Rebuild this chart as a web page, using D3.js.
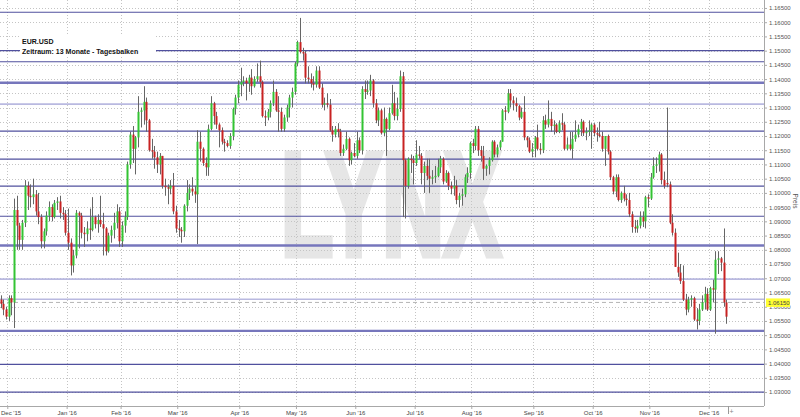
<!DOCTYPE html>
<html>
<head>
<meta charset="utf-8">
<script src="https://cdn.jsdelivr.net/npm/d3@7"></script>
<style>
  body { margin: 0; background: #fff; }
  svg text { font-family: "Liberation Sans", Arial, sans-serif; }
</style>
</head>
<body>
<div id="chart"></div>
<script>
var w = 800, h = 417;
var plotRight = 764, plotBottom = 406;

// daily bars EUR.USD, each row [open, high, low, close]
var nov15 = [
  [1.0625,1.0640,1.0595,1.0610],[1.0610,1.0625,1.0570,1.0590],[1.0590,1.0600,1.0555,1.0565]
];
var dec15 = [
  [1.0565,1.0640,1.0550,1.0630],[1.0630,1.0640,1.0570,1.0615],[1.0615,1.0980,1.0525,1.0940],
  [1.0940,1.0990,1.0800,1.0885],[1.0885,1.0895,1.0800,1.0835],[1.0835,1.0905,1.0800,1.0895],
  [1.0895,1.1045,1.0880,1.1025],[1.1025,1.1040,1.0940,1.0990],[1.0990,1.1030,1.0950,1.0985],
  [1.0985,1.1050,1.0960,1.0995],[1.0995,1.1010,1.0920,1.0935],[1.0935,1.1000,1.0890,1.0915],
  [1.0915,1.0925,1.0805,1.0830],[1.0830,1.0875,1.0805,1.0865],[1.0865,1.0935,1.0850,1.0920],
  [1.0920,1.0970,1.0900,1.0950],[1.0950,1.0960,1.0900,1.0915],[1.0915,1.0975,1.0910,1.0965],
  [1.0965,1.0985,1.0940,1.0970],[1.0970,1.0990,1.0910,1.0930],[1.0930,1.0950,1.0905,1.0925],
  [1.0925,1.0940,1.0850,1.0860]
];
var jan16 = [
  [1.0860,1.0945,1.0800,1.0825],[1.0825,1.0840,1.0710,1.0745],[1.0745,1.0800,1.0720,1.0780],
  [1.0780,1.0940,1.0770,1.0930],[1.0930,1.0935,1.0805,1.0920],[1.0920,1.0930,1.0840,1.0860],
  [1.0860,1.0880,1.0810,1.0855],[1.0855,1.0900,1.0830,1.0875],[1.0875,1.0945,1.0835,1.0870],
  [1.0870,1.0985,1.0865,1.0915],[1.0915,1.0920,1.0875,1.0890],[1.0890,1.0925,1.0860,1.0905],
  [1.0905,1.0990,1.0880,1.0890],[1.0890,1.0930,1.0780,1.0875],[1.0875,1.0880,1.0780,1.0795],
  [1.0795,1.0860,1.0790,1.0850],[1.0850,1.0885,1.0825,1.0870],[1.0870,1.0930,1.0840,1.0895],
  [1.0895,1.0960,1.0875,1.0935],[1.0935,1.0950,1.0810,1.0830]
];
var feb16 = [
  [1.0830,1.0900,1.0810,1.0885],[1.0885,1.0935,1.0860,1.0915],[1.0915,1.1110,1.0905,1.1100],
  [1.1100,1.1215,1.1085,1.1205],[1.1205,1.1235,1.1105,1.1155],[1.1155,1.1200,1.1065,1.1195],
  [1.1195,1.1340,1.1160,1.1285],[1.1285,1.1300,1.1230,1.1290],[1.1290,1.1375,1.1240,1.1320],
  [1.1320,1.1335,1.1215,1.1255],[1.1255,1.1260,1.1145,1.1150],[1.1150,1.1190,1.1120,1.1145],
  [1.1145,1.1165,1.1085,1.1125],[1.1125,1.1145,1.1070,1.1100],[1.1100,1.1140,1.1065,1.1130],
  [1.1130,1.1130,1.1015,1.1025],[1.1025,1.1050,1.0990,1.1020],[1.1020,1.1030,1.0960,1.1015],
  [1.1015,1.1045,1.0995,1.1025],[1.1025,1.1070,1.0925,1.0935],[1.0935,1.0955,1.0860,1.0875]
];
var mar16 = [
  [1.0875,1.0905,1.0845,1.0870],[1.0870,1.0880,1.0825,1.0865],[1.0865,1.0960,1.0845,1.0955],
  [1.0955,1.1045,1.0935,1.1000],[1.1000,1.1030,1.0975,1.1015],[1.1015,1.1055,1.0990,1.1005],
  [1.1005,1.1025,1.0965,1.0995],[1.0995,1.1220,1.0820,1.1180],[1.1180,1.1215,1.1110,1.1155],
  [1.1155,1.1160,1.1095,1.1105],[1.1105,1.1125,1.1060,1.1090],[1.1090,1.1240,1.1060,1.1225],
  [1.1225,1.1340,1.1220,1.1315],[1.1315,1.1320,1.1240,1.1270],[1.1270,1.1285,1.1225,1.1240],
  [1.1240,1.1245,1.1160,1.1220],[1.1220,1.1230,1.1170,1.1180],[1.1180,1.1190,1.1145,1.1175],
  [1.1175,1.1185,1.1160,1.1165],[1.1165,1.1210,1.1155,1.1200],[1.1200,1.1300,1.1185,1.1295],
  [1.1295,1.1345,1.1275,1.1335],[1.1335,1.1395,1.1315,1.1380]
];
var apr16 = [
  [1.1380,1.1440,1.1340,1.1390],[1.1390,1.1410,1.1375,1.1395],[1.1395,1.1405,1.1325,1.1385],
  [1.1385,1.1415,1.1355,1.1405],[1.1405,1.1435,1.1345,1.1375],[1.1375,1.1410,1.1370,1.1400],
  [1.1400,1.1455,1.1390,1.1410],[1.1410,1.1465,1.1370,1.1390],[1.1390,1.1395,1.1265,1.1270],
  [1.1270,1.1290,1.1235,1.1265],[1.1265,1.1295,1.1255,1.1285],[1.1285,1.1325,1.1265,1.1315],
  [1.1315,1.1395,1.1305,1.1355],[1.1355,1.1365,1.1285,1.1290],[1.1290,1.1340,1.1215,1.1285],
  [1.1285,1.1300,1.1215,1.1225],[1.1225,1.1275,1.1215,1.1265],[1.1265,1.1310,1.1250,1.1300],
  [1.1300,1.1345,1.1265,1.1335],[1.1335,1.1370,1.1300,1.1355],[1.1355,1.1460,1.1345,1.1455]
];
var may16 = [
  [1.1455,1.1535,1.1445,1.1530],[1.1530,1.1615,1.1490,1.1495],[1.1495,1.1510,1.1465,1.1490],
  [1.1490,1.1500,1.1385,1.1405],[1.1405,1.1445,1.1385,1.1400],[1.1400,1.1420,1.1370,1.1385],
  [1.1385,1.1410,1.1360,1.1380],[1.1380,1.1445,1.1370,1.1430],[1.1430,1.1445,1.1365,1.1370],
  [1.1370,1.1385,1.1300,1.1310],[1.1310,1.1335,1.1290,1.1315],[1.1315,1.1350,1.1300,1.1310],
  [1.1310,1.1330,1.1215,1.1220],[1.1220,1.1235,1.1180,1.1205],[1.1205,1.1235,1.1195,1.1225],
  [1.1225,1.1245,1.1195,1.1215],[1.1215,1.1225,1.1130,1.1140],[1.1140,1.1170,1.1130,1.1155],
  [1.1155,1.1215,1.1150,1.1190],[1.1190,1.1195,1.1095,1.1115],[1.1115,1.1145,1.1100,1.1140],
  [1.1140,1.1175,1.1125,1.1130]
];
var jun16 = [
  [1.1130,1.1215,1.1120,1.1185],[1.1185,1.1195,1.1140,1.1150],[1.1150,1.1375,1.1135,1.1365],
  [1.1365,1.1395,1.1330,1.1355],[1.1355,1.1395,1.1345,1.1360],[1.1360,1.1415,1.1340,1.1395],
  [1.1395,1.1400,1.1300,1.1315],[1.1315,1.1330,1.1245,1.1255],[1.1255,1.1300,1.1235,1.1290],
  [1.1290,1.1295,1.1205,1.1210],[1.1210,1.1300,1.1200,1.1260],[1.1260,1.1265,1.1130,1.1225],
  [1.1225,1.1300,1.1220,1.1280],[1.1280,1.1380,1.1275,1.1315],[1.1315,1.1355,1.1255,1.1270],
  [1.1270,1.1335,1.1255,1.1295],[1.1295,1.1430,1.1285,1.1410],[1.1410,1.1425,1.0915,1.1115],
  [1.1115,1.1120,1.0910,1.1025],[1.1025,1.1125,1.1015,1.1120],[1.1120,1.1135,1.1070,1.1115],
  [1.1115,1.1130,1.1030,1.1105]
];
var jul16 = [
  [1.1105,1.1185,1.1095,1.1135],[1.1135,1.1165,1.1120,1.1130],[1.1130,1.1140,1.1030,1.1070],
  [1.1070,1.1110,1.1000,1.1095],[1.1095,1.1120,1.1045,1.1060],[1.1060,1.1120,1.1000,1.1050],
  [1.1050,1.1080,1.1030,1.1055],[1.1055,1.1095,1.1035,1.1060],[1.1060,1.1120,1.1055,1.1090],
  [1.1090,1.1130,1.1070,1.1120],[1.1120,1.1125,1.1030,1.1040],[1.1040,1.1080,1.1035,1.1070],
  [1.1070,1.1075,1.1010,1.1025],[1.1025,1.1040,1.0995,1.1015],[1.1015,1.1060,1.0990,1.1025],
  [1.1025,1.1045,1.0960,1.0975],[1.0975,1.1000,1.0950,1.0990],[1.0990,1.1015,1.0955,1.0995],
  [1.0995,1.1065,1.0985,1.1055],[1.1055,1.1090,1.1035,1.1070],[1.1070,1.1180,1.1050,1.1175]
];
var aug16 = [
  [1.1175,1.1190,1.1140,1.1165],[1.1165,1.1235,1.1150,1.1225],[1.1225,1.1235,1.1130,1.1150],
  [1.1150,1.1165,1.1110,1.1130],[1.1130,1.1165,1.1045,1.1085],[1.1085,1.1100,1.1060,1.1095],
  [1.1095,1.1125,1.1065,1.1115],[1.1115,1.1185,1.1110,1.1180],[1.1180,1.1185,1.1125,1.1135],
  [1.1135,1.1170,1.1125,1.1160],[1.1160,1.1185,1.1150,1.1180],[1.1180,1.1295,1.1180,1.1290],
  [1.1290,1.1305,1.1255,1.1285],[1.1285,1.1365,1.1280,1.1350],[1.1350,1.1365,1.1300,1.1325],
  [1.1325,1.1340,1.1290,1.1315],[1.1315,1.1335,1.1285,1.1305],[1.1305,1.1310,1.1255,1.1265],
  [1.1265,1.1300,1.1260,1.1285],[1.1285,1.1340,1.1185,1.1195],[1.1195,1.1200,1.1160,1.1185],
  [1.1185,1.1195,1.1140,1.1145],[1.1145,1.1175,1.1125,1.1155]
];
var sep16 = [
  [1.1155,1.1200,1.1125,1.1195],[1.1195,1.1240,1.1150,1.1155],[1.1155,1.1175,1.1135,1.1150],
  [1.1150,1.1270,1.1140,1.1255],[1.1255,1.1275,1.1225,1.1240],[1.1240,1.1325,1.1230,1.1260],
  [1.1260,1.1285,1.1215,1.1235],[1.1235,1.1255,1.1205,1.1240],[1.1240,1.1245,1.1210,1.1215],
  [1.1215,1.1255,1.1210,1.1245],[1.1245,1.1280,1.1220,1.1240],[1.1240,1.1250,1.1150,1.1155],
  [1.1155,1.1195,1.1150,1.1170],[1.1170,1.1215,1.1150,1.1155],[1.1155,1.1215,1.1120,1.1190],
  [1.1190,1.1255,1.1180,1.1205],[1.1205,1.1240,1.1195,1.1225],[1.1225,1.1260,1.1200,1.1250],
  [1.1250,1.1255,1.1200,1.1210],[1.1210,1.1230,1.1185,1.1215],[1.1215,1.1255,1.1200,1.1220],
  [1.1220,1.1245,1.1155,1.1240]
];
var oct16 = [
  [1.1240,1.1245,1.1200,1.1210],[1.1210,1.1230,1.1180,1.1205],[1.1205,1.1250,1.1195,1.1200],
  [1.1200,1.1215,1.1145,1.1155],[1.1155,1.1190,1.1095,1.1200],[1.1200,1.1205,1.1135,1.1145],
  [1.1145,1.1150,1.1045,1.1055],[1.1055,1.1060,1.0995,1.1005],[1.1005,1.1065,1.0985,1.1055],
  [1.1055,1.1065,1.0970,1.0975],[1.0975,1.1005,1.0965,1.1000],[1.1000,1.1025,1.0970,1.0980],
  [1.0980,1.0995,1.0955,1.0975],[1.0975,1.1000,1.0915,1.0925],[1.0925,1.0935,1.0860,1.0880],
  [1.0880,1.0905,1.0860,1.0875],[1.0875,1.0905,1.0860,1.0885],[1.0885,1.0935,1.0875,1.0915],
  [1.0915,1.0935,1.0880,1.0900],[1.0900,1.0990,1.0875,1.0985],[1.0985,1.0995,1.0950,1.0980]
];
var nov16 = [
  [1.0980,1.1070,1.0975,1.1055],[1.1055,1.1125,1.1050,1.1095],[1.1095,1.1125,1.1070,1.1100],
  [1.1100,1.1145,1.1075,1.1135],[1.1135,1.1140,1.1030,1.1045],[1.1045,1.1075,1.1015,1.1025],
  [1.1035,1.1300,1.1020,1.1030],[1.1030,1.1040,1.0890,1.0895],[1.0895,1.0925,1.0850,1.0860],
  [1.0860,1.0875,1.0740,1.0740],[1.0740,1.0790,1.0705,1.0720],[1.0720,1.0750,1.0680,1.0690],
  [1.0690,1.0745,1.0620,1.0625],[1.0625,1.0645,1.0570,1.0590],[1.0590,1.0635,1.0580,1.0625],
  [1.0625,1.0640,1.0600,1.0630],[1.0630,1.0635,1.0550,1.0555],[1.0555,1.0595,1.0520,1.0550],
  [1.0550,1.0610,1.0535,1.0590],[1.0590,1.0640,1.0585,1.0615],[1.0615,1.0670,1.0590,1.0645],
  [1.0645,1.0665,1.0585,1.0590]
];
var dec16 = [
  [1.0590,1.0670,1.0585,1.0665],[1.0665,1.0695,1.0615,1.0660],[1.0660,1.0795,1.0505,1.0765],
  [1.0765,1.0795,1.0715,1.0770],[1.0770,1.0775,1.0725,1.0755],[1.0755,1.0875,1.0600,1.0615],
  [1.0615,1.0625,1.0540,1.0565]
];

// horizontal support / resistance lines
var levels = [1.1635, 1.1500, 1.1461, 1.1217, 1.1119, 1.1024, 1.0918, 1.0397, 1.0300];
var strongLevels = [1.1387, 1.0815, 1.0515];
var weakLevels = [1.1312, 1.0697, 1.0626];
var lastPrice = 1.0615;
var holidays = ["2015-12-25", "2016-01-01"];
var firstDay = "2015-11-26";

var bars = [].concat(nov15, dec15, jan16, feb16, mar16, apr16, may16,
                     jun16, jul16, aug16, sep16, oct16, nov16, dec16);

// trading days (weekdays without holidays)
var dayFmt = d3.timeFormat("%Y-%m-%d");
var dates = [];
var day = d3.timeParse("%Y-%m-%d")(firstDay);
while (dates.length < bars.length) {
  var wd = day.getDay();
  if (wd != 0 && wd != 6 && holidays.indexOf(dayFmt(day)) < 0) dates.push(day);
  day = d3.timeDay.offset(day, 1);
}

var x = d3.scaleLinear().domain([-0.2, bars.length + 13]).range([0, plotRight]);
var y = d3.scaleLinear().domain([1.0251, 1.1678]).range([plotBottom, 0]);
var priceTicks = d3.range(0, 28).map(function(i) { return Math.round((1.03 + i * 0.005) * 1000) / 1000; });

var monthTicks = [];
for (var i = 1; i < dates.length; i++) {
  if (dates[i].getMonth() != dates[i - 1].getMonth()) monthTicks.push(i - 0.5);
}
var monthFmt = d3.timeFormat("%b '%y");

var svg = d3.select("#chart")
  .append("svg")
  .attr("width", w)
  .attr("height", h);

svg.append("rect").attr("width", w).attr("height", h).attr("fill", "#fff");

// watermark
svg.append("text")
  .attr("x", 281)
  .attr("y", 255)
  .attr("font-size", 146)
  .attr("font-weight", "bold")
  .attr("fill", "#e6e6e6")
  .attr("stroke", "#e6e6e6")
  .attr("stroke-width", 7)
  .attr("stroke-linejoin", "miter")
  .attr("textLength", 220)
  .attr("lengthAdjust", "spacingAndGlyphs")
  .text("LYNX");

// dotted grid
svg.append("g").selectAll("line")
  .data(priceTicks)
  .enter().append("line")
  .attr("x1", 0).attr("x2", plotRight)
  .attr("y1", function(d) { return Math.round(y(d)) + 0.5; })
  .attr("y2", function(d) { return Math.round(y(d)) + 0.5; })
  .attr("stroke", "#c4c4c4")
  .attr("stroke-dasharray", "1,2");

svg.append("g").selectAll("line")
  .data(monthTicks)
  .enter().append("line")
  .attr("x1", function(d) { return Math.round(x(d)) + 0.5; })
  .attr("x2", function(d) { return Math.round(x(d)) + 0.5; })
  .attr("y1", 0).attr("y2", plotBottom)
  .attr("stroke", "#c4c4c4")
  .attr("stroke-dasharray", "1,2");

// level lines
function drawLevels(vals, color, width) {
  svg.append("g").selectAll("line")
    .data(vals)
    .enter().append("line")
    .attr("x1", 0).attr("x2", plotRight)
    .attr("y1", function(d) { return y(d); })
    .attr("y2", function(d) { return y(d); })
    .attr("stroke", color)
    .attr("stroke-width", width);
}
drawLevels(weakLevels, "#b9b9e0", 1.6);
drawLevels(strongLevels, "#7676bc", 2.4);
drawLevels(levels, "#50509e", 1.2);

svg.append("line")
  .attr("x1", 0).attr("x2", plotRight)
  .attr("y1", y(lastPrice)).attr("y2", y(lastPrice))
  .attr("stroke", "#b4b4b4")
  .attr("stroke-dasharray", "4,3");

// candles
var candle = svg.append("g").selectAll("g")
  .data(bars)
  .enter().append("g");

candle.append("line")
  .attr("x1", function(d, i) { return Math.round(x(i)) + 0.5; })
  .attr("x2", function(d, i) { return Math.round(x(i)) + 0.5; })
  .attr("y1", function(d) { return y(d[1]); })
  .attr("y2", function(d) { return y(d[2]); })
  .attr("stroke", "#666");

candle.append("rect")
  .attr("x", function(d, i) { return Math.round(x(i)) - 0.5; })
  .attr("width", 2)
  .attr("y", function(d) { return y(Math.max(d[0], d[3])); })
  .attr("height", function(d) { return Math.max(1, Math.abs(y(d[0]) - y(d[3]))); })
  .attr("fill", function(d) { return d[3] >= d[0] ? "#33c433" : "#c82222"; });

// right price axis
var yAxis = svg.append("g")
  .attr("transform", "translate(" + plotRight + ",0)")
  .call(d3.axisRight(y).tickValues(priceTicks).tickFormat(d3.format(".5f")).tickSize(3).tickPadding(2));
yAxis.select(".domain").attr("stroke", "#a8a8a8").attr("d", "M0.5,0V" + plotBottom);
yAxis.selectAll(".tick line").attr("stroke", "#aaa");
yAxis.selectAll(".tick text").attr("font-size", 6).attr("fill", "#555").attr("font-family", null);

// bottom time axis
var xAxis = svg.append("g")
  .attr("transform", "translate(0," + plotBottom + ")")
  .call(d3.axisBottom(x).tickValues(monthTicks)
    .tickFormat(function(d) { return monthFmt(dates[Math.ceil(d)]); })
    .tickSize(3).tickPadding(2));
xAxis.select(".domain").attr("stroke", "#a8a8a8").attr("d", "M0,0.5H" + plotRight);
xAxis.selectAll(".tick line").attr("stroke", "#aaa");
xAxis.selectAll(".tick text").attr("font-size", 6).attr("fill", "#444").attr("font-family", null);
// first label would run off the left edge
xAxis.selectAll(".tick text").filter(function(d, i) { return i == 0; })
  .attr("text-anchor", "start")
  .attr("x", function(d) { return 0.5 - x(d); });

xAxis.append("line")
  .attr("x1", Math.round(x(bars.length - 0.5)) + 0.5)
  .attr("x2", Math.round(x(bars.length - 0.5)) + 0.5)
  .attr("y1", 0).attr("y2", 8)
  .attr("stroke", "#999");
xAxis.append("text")
  .attr("x", x(bars.length + 1))
  .attr("y", 8)
  .attr("font-size", 7)
  .attr("fill", "#888")
  .attr("text-anchor", "middle")
  .text("+");

// current price marker
var py = y(lastPrice);
svg.append("rect")
  .attr("x", plotRight + 2).attr("y", py - 4)
  .attr("width", 24).attr("height", 8.5)
  .attr("fill", "#ffff33");
svg.append("text")
  .attr("x", plotRight + 4).attr("y", py + 2.2)
  .attr("font-size", 6).attr("fill", "#444")
  .text(d3.format(".5f")(lastPrice));

svg.append("text")
  .attr("transform", "translate(793," + 201 + ") rotate(90)")
  .attr("font-size", 6.5)
  .attr("fill", "#555")
  .attr("text-anchor", "middle")
  .text("Preis");

// title box
svg.append("rect").attr("x", 20).attr("y", 36).attr("width", 136).attr("height", 20).attr("fill", "#fff");
svg.append("text")
  .attr("x", 22).attr("y", 43.5)
  .attr("font-size", 7).attr("font-weight", "bold").attr("fill", "#111")
  .text("EUR.USD");
svg.append("text")
  .attr("x", 22).attr("y", 53.5)
  .attr("font-size", 7).attr("font-weight", "bold").attr("fill", "#111")
  .text("Zeitraum: 13 Monate - Tagesbalken");
</script>
</body>
</html>
